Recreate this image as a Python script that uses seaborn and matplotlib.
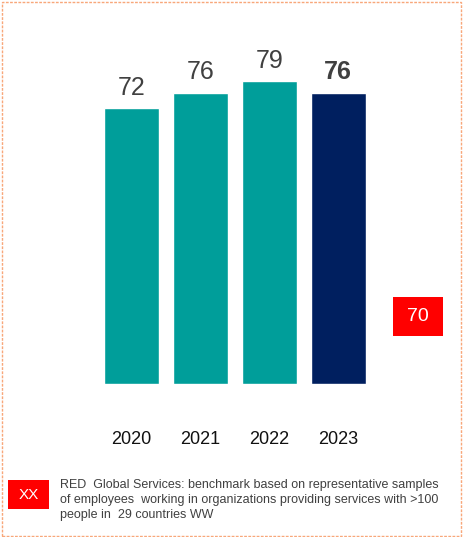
import matplotlib
matplotlib.use("Agg")
import matplotlib.pyplot as plt
from matplotlib.patches import Rectangle
import seaborn as sns
import pandas as pd

years = ["2020", "2021", "2022", "2023"]
scores = [72, 76, 79, 76]
bar_colors = ["#009E9A", "#009E9A", "#009E9A", "#001F5F"]
benchmark_value = "70"
footnote_tag = "XX"
footnote_text = ("RED  Global Services: benchmark based on representative samples\n"
                 "of employees  working in organizations providing services with >100\n"
                 "people in  29 countries WW")

sns.set_theme(style="white")
plt.rcParams["font.family"] = ["Liberation Sans", "DejaVu Sans"]

W, H = 463, 537
fig = plt.figure(figsize=(W / 100, H / 100), dpi=100)

def fx(px):
    return px / W

def fy(py):
    return 1 - py / H

ax_left, ax_right = 97, 372.5
ax_bottom, ax_top = 384, 39
ax = fig.add_axes([fx(ax_left), fy(ax_bottom), fx(ax_right) - fx(ax_left), fy(ax_top) - fy(ax_bottom)])

df = pd.DataFrame({"year": years, "score": scores})
sns.barplot(data=df, x="year", y="score", hue="year", palette=bar_colors,
            width=0.8, legend=False, ax=ax, saturation=1)
ax.set_xlim(-0.5, 3.5)
ax.set_ylim(0, 90)
ax.set_xlabel("")
ax.set_ylabel("")
ax.set_yticks([])
for s in ax.spines.values():
    s.set_visible(False)
ax.tick_params(axis="x", length=0, pad=34, labelsize=13, labelcolor="#111111")

for i, v in enumerate(scores):
    bold = (i == len(scores) - 1)
    ax.annotate(str(v), (i, v), xytext=(0, 6), textcoords="offset points",
                ha="center", va="bottom", fontsize=18,
                fontweight="bold" if bold else "normal", color="#404040")

# benchmark box
fig.patches.append(Rectangle((fx(393), fy(336)), fx(50), 39 / H, transform=fig.transFigure,
                             facecolor="#FF0000", edgecolor="none"))
fig.text(fx(418), fy(316.5), benchmark_value, ha="center", va="center",
         fontsize=14, color="white")

# footnote
fig.patches.append(Rectangle((fx(8), fy(509)), fx(41), 29 / H, transform=fig.transFigure,
                             facecolor="#FF0000", edgecolor="none"))
fig.text(fx(28.5), fy(495), footnote_tag, ha="center", va="center",
         fontsize=11, color="white")
fig.text(fx(60), fy(479), footnote_text, ha="left", va="top",
         fontsize=9, color="#404040", linespacing=1.36)

# dashed border
fig.patches.append(Rectangle((fx(1.5), fy(535.5)), fx(459.5), 534 / H, transform=fig.transFigure,
                             facecolor="none", edgecolor="#F8A77A", linewidth=1.0,
                             linestyle=(0, (2, 1))))

fig.savefig("out.png", dpi=100, facecolor="white")
